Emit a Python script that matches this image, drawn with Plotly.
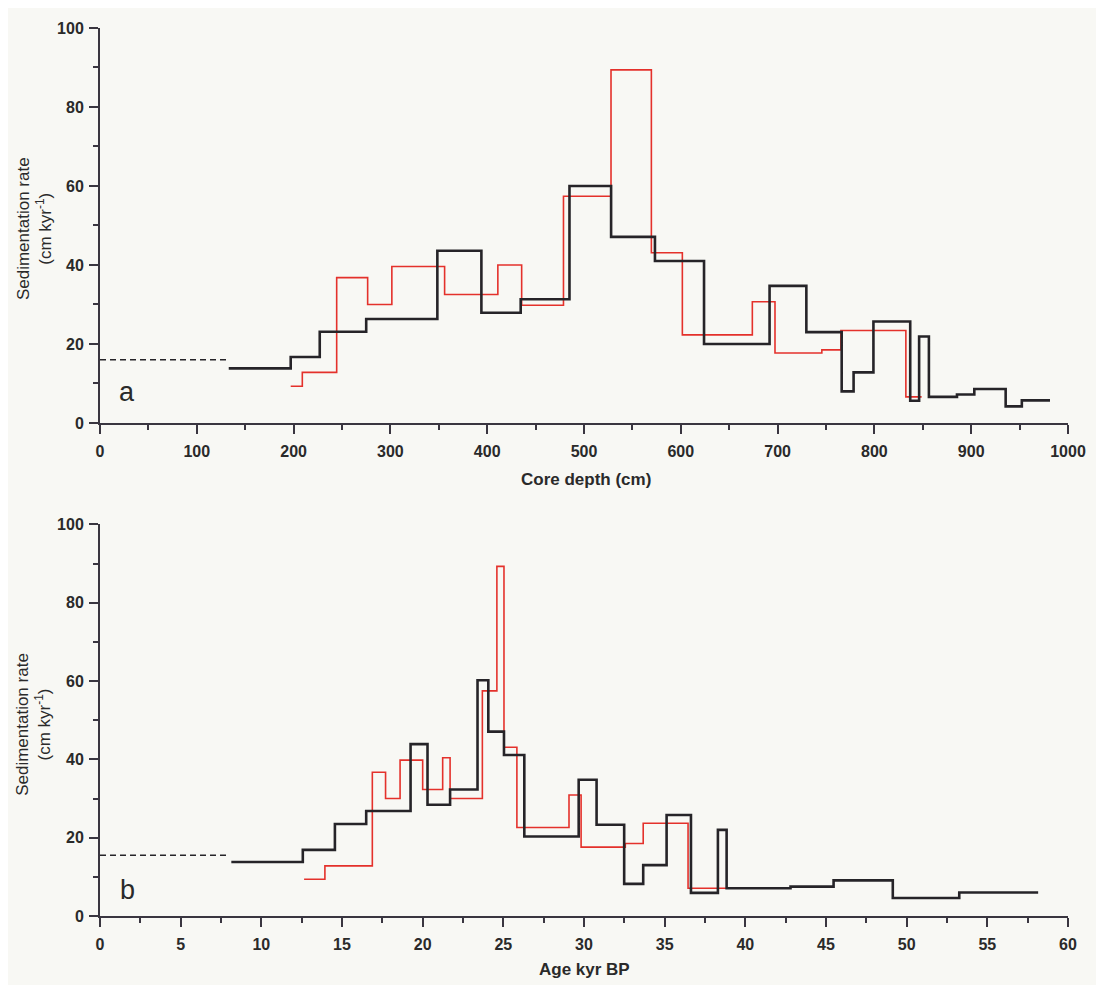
import plotly.graph_objects as go

# ---------------- data ----------------
# Panel a: sedimentation rate vs core depth (cm)
a_black_edges = [133, 197, 227, 275, 348.5, 394, 434.6, 485, 528, 573.3, 624, 691.7,
                 729.7, 766.2, 778.5, 799, 837, 846.2, 856.3, 885.3, 903.2, 935.6, 952.3, 981.4]
a_black_rate = [13.8, 16.7, 23.1, 26.3, 43.6, 27.9, 31.3, 60.0, 47.1, 41.0, 20.0, 34.7,
                23.0, 8.0, 12.8, 25.7, 5.6, 21.9, 6.6, 7.2, 8.6, 4.2, 5.7]
a_red_edges = [197, 209, 244.5, 276.5, 301.5, 356, 411, 435.6, 478.8, 527.9, 569.6, 601.6,
               673.9, 697.3, 745.7, 765.4, 832.5, 848.8]
a_red_rate = [9.3, 12.8, 36.8, 30.0, 39.6, 32.5, 40.0, 29.8, 57.4, 89.4, 43.1, 22.3,
              30.7, 17.7, 18.5, 23.4, 6.6]
a_dash_edges = [0, 132]
a_dash_rate = [16.0]

# Panel b: sedimentation rate vs age (kyr BP)
b_black_edges = [8.14, 12.57, 14.56, 16.5, 19.25, 20.3, 21.7, 23.4, 24.07, 25.04, 26.3, 29.67,
                 30.78, 32.49, 33.67, 35.12, 36.63, 38.3, 38.84, 42.8, 45.47, 49.14, 53.26, 58.15]
b_black_rate = [13.8, 16.9, 23.5, 26.8, 43.9, 28.4, 32.3, 60.2, 47.1, 41.1, 20.3, 34.8,
                23.3, 8.2, 13.0, 25.8, 5.9, 22.0, 7.1, 7.5, 9.1, 4.6, 6.0]
b_red_edges = [12.65, 13.94, 16.88, 17.7, 18.6, 20.0, 21.24, 21.7, 23.7, 24.6, 25.04, 25.84,
               29.07, 29.82, 32.56, 33.67, 36.45, 38.9]
b_red_rate = [9.4, 12.8, 36.7, 30.0, 39.8, 32.3, 40.4, 30.0, 57.5, 89.3, 43.1, 22.6,
              30.9, 17.6, 18.5, 23.7, 7.1]
b_dash_edges = [0, 7.85]
b_dash_rate = [15.5]

a_xticks = [0, 100, 200, 300, 400, 500, 600, 700, 800, 900, 1000]
b_xticks = [0, 5, 10, 15, 20, 25, 30, 35, 40, 45, 50, 55, 60]
y_ticks = [0, 20, 40, 60, 80, 100]

# ---------------- styling ----------------
BLACK = "#262428"
RED = "#e4312b"
AXIS = "#3a3640"
TXT = "#2a2a2a"
BG = "#f8f8f4"
FONT = "Liberation Sans, Arial, sans-serif"


def step_xy(edges, vals):
    return list(edges), list(vals) + [vals[-1]]


fig = go.Figure()


def add_step(edges, vals, color, width, xa, ya, dash="solid"):
    x, y = step_xy(edges, vals)
    fig.add_trace(go.Scatter(x=x, y=y, mode="lines", line_shape="hv",
                             line=dict(color=color, width=width, dash=dash),
                             xaxis=xa, yaxis=ya, showlegend=False, hoverinfo="skip"))


# panel a
add_step(a_dash_edges, a_dash_rate, BLACK, 1.5, "x", "y", dash="6px,4px")
add_step(a_red_edges, a_red_rate, RED, 1.6, "x", "y")
add_step(a_black_edges, a_black_rate, BLACK, 2.6, "x", "y")
# panel b
add_step(b_dash_edges, b_dash_rate, BLACK, 1.5, "x2", "y2", dash="6px,4px")
add_step(b_red_edges, b_red_rate, RED, 1.6, "x2", "y2")
add_step(b_black_edges, b_black_rate, BLACK, 2.6, "x2", "y2")

# The page body has an 8px margin, so the figure is drawn 8px smaller and
# reference pixel positions are shifted by -8.
OFF = 8
W, H = 1104 - OFF, 985 - OFF
ML, MR, MT, MB = 100 - OFF, W - (1068 - OFF), 24 - OFF, H - (916 - OFF)
PH = H - MT - MB
PW = W - ML - MR


def py2paper(py):
    return (H - MB - (py - OFF)) / PH


def px2paper(px):
    return (px - OFF - ML) / PW


tickfont = dict(family=FONT, size=16, color=TXT, weight="bold")

common_axis = dict(showline=True, linecolor=AXIS, linewidth=2, showgrid=False, zeroline=False,
                   ticks="outside", ticklen=9, tickwidth=2, tickcolor=AXIS, tickfont=tickfont,
                   fixedrange=True)

fig.update_layout(
    width=W, height=H,
    margin=dict(l=ML, r=MR, t=MT, b=MB),
    paper_bgcolor=BG, plot_bgcolor=BG,
    font=dict(family=FONT, color=TXT),
    xaxis=dict(domain=[0, 1], range=[0, 1000], anchor="y", tickvals=a_xticks, ticklabelstandoff=4,
               minor=dict(dtick=50, tick0=0, ticks="outside", ticklen=5, tickwidth=1.5, tickcolor=AXIS),
               **common_axis),
    yaxis=dict(domain=[py2paper(420.7), 1], range=[0, 100], anchor="x", tickvals=y_ticks,
               ticklabelstandoff=2,
               minor=dict(dtick=10, tick0=0, ticks="outside", ticklen=5, tickwidth=1.5, tickcolor=AXIS),
               **common_axis),
    xaxis2=dict(domain=[0, 1], range=[0, 60], anchor="y2", tickvals=b_xticks, ticklabelstandoff=4,
                minor=dict(dtick=2.5, tick0=0, ticks="outside", ticklen=5, tickwidth=1.5, tickcolor=AXIS),
                **common_axis),
    yaxis2=dict(domain=[0, py2paper(522.7)], range=[0, 100], anchor="x2", tickvals=y_ticks,
                ticklabelstandoff=2,
                minor=dict(dtick=10, tick0=0, ticks="outside", ticklen=5, tickwidth=1.5, tickcolor=AXIS),
                **common_axis),
)

ann = []
ann.append(dict(text="Core depth (cm)", x=px2paper(586), y=py2paper(478), xref="paper", yref="paper",
                showarrow=False, xanchor="center", yanchor="middle",
                font=dict(family=FONT, size=17, color=TXT, weight="bold")))
ann.append(dict(text="Age kyr BP", x=px2paper(584), y=py2paper(970), xref="paper", yref="paper",
                showarrow=False, xanchor="center", yanchor="middle",
                font=dict(family=FONT, size=17, color=TXT, weight="bold")))
for cy in (226, 724):
    ann.append(dict(text="Sedimentation rate<br>(cm kyr<sup>-1</sup>)", x=px2paper(34), y=py2paper(cy),
                    xref="paper", yref="paper", showarrow=False, textangle=-90,
                    xanchor="center", yanchor="middle",
                    font=dict(family=FONT, size=17, color=TXT)))
ann.append(dict(text="a", x=px2paper(127), y=py2paper(390), xref="paper", yref="paper",
                showarrow=False, xanchor="center", yanchor="middle",
                font=dict(family=FONT, size=27, color=TXT)))
ann.append(dict(text="b", x=px2paper(127), y=py2paper(890), xref="paper", yref="paper",
                showarrow=False, xanchor="center", yanchor="middle",
                font=dict(family=FONT, size=27, color=TXT)))
fig.update_layout(annotations=ann)

fig.write_html("out.html")
